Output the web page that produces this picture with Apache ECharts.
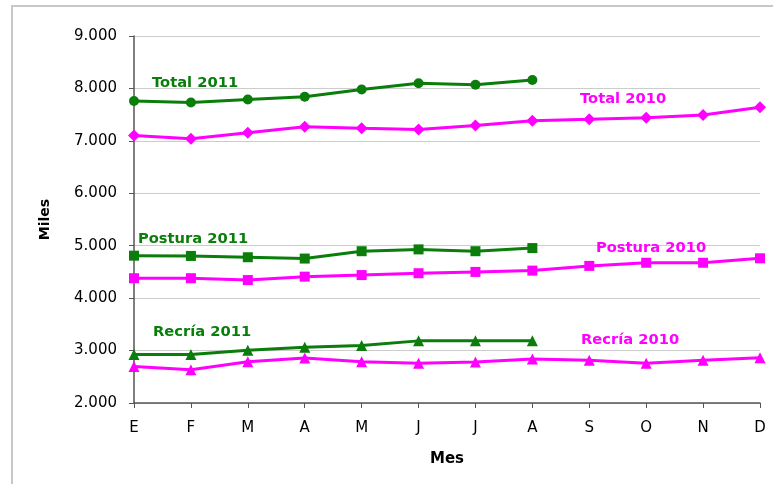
<!DOCTYPE html>
<html><head><meta charset="utf-8">
<script src="https://cdn.jsdelivr.net/npm/echarts@6/dist/echarts.min.js"></script>
<style>html,body{margin:0;padding:0;background:#fff}#c{width:773px;height:484px}</style>
</head><body><div id="c"></div>
<script>
var months = ['E','F','M','A','M','J','J','A','S','O','N','D'];
var total2011 = [7760, 7730, 7790, 7840, 7980, 8100, 8070, 8160];
var total2010 = [7100, 7040, 7155, 7270, 7240, 7215, 7295, 7385, 7410, 7440, 7495, 7640];
var postura2011 = [4810, 4805, 4780, 4755, 4895, 4930, 4895, 4955];
var postura2010 = [4380, 4380, 4345, 4410, 4440, 4475, 4500, 4525, 4615, 4675, 4675, 4760];
var recria2011 = [2925, 2925, 3005, 3065, 3095, 3185, 3185, 3185];
var recria2010 = [2695, 2635, 2785, 2860, 2785, 2760, 2780, 2840, 2815, 2760, 2815, 2865];
var yTicks = {min: 2000, max: 9000, interval: 1000};

var GREEN = '#0a7d0a', MAG = '#ff00ff';
var FONT = '"DejaVu Sans", Verdana, sans-serif';
function s(name, data, color, symbol, size) {
  return {name: name, type: 'line', data: data, symbol: symbol, symbolSize: size,
    showAllSymbol: true,
    lineStyle: {color: color, width: 3}, itemStyle: {color: color}, z: 3};
}
function lbl(text, x, y, color) {
  return {type: 'text', left: x, top: y, z: 100, style: {text: text, fill: color,
    font: 'bold 14.7px ' + FONT}};
}
var chart = echarts.init(document.getElementById('c'), null, {renderer: 'canvas'});
chart.setOption({
  animation: false,
  textStyle: {fontFamily: FONT},
  grid: {left: 134, right: 13, top: 36, bottom: 81},
  xAxis: {type: 'category', data: months, boundaryGap: false,
    name: 'Mes', nameLocation: 'middle', nameGap: 49,
    nameTextStyle: {fontWeight: 'bold', fontSize: 15, color: '#000', fontFamily: FONT},
    axisLine: {lineStyle: {color: '#555', width: 1.5}},
    axisTick: {show: true, length: 5, inside: false, alignWithLabel: true, lineStyle: {color: '#555'}},
    axisLabel: {color: '#000', fontSize: 15, margin: 18, fontFamily: FONT},
    splitLine: {show: false}},
  yAxis: {type: 'value', min: yTicks.min, max: yTicks.max, interval: yTicks.interval,
    name: 'Miles', nameLocation: 'middle', nameGap: 82, nameRotate: 90,
    nameTextStyle: {fontWeight: 'bold', fontSize: 14, color: '#000', fontFamily: FONT},
    axisLine: {show: true, lineStyle: {color: '#555', width: 1.5}},
    axisTick: {show: true, length: 5, lineStyle: {color: '#555'}},
    axisLabel: {color: '#000', fontSize: 15, margin: 17, fontFamily: FONT,
      formatter: function (v) { return String(v).replace(/\B(?=(\d{3})+(?!\d))/g, '.'); }},
    splitLine: {show: true, lineStyle: {color: '#cccccc', width: 1}}},
  graphic: [
    {type: 'rect', shape: {x: 12, y: 6, width: 800, height: 520},
      style: {fill: 'none', stroke: '#c8c8c8', lineWidth: 2}, silent: true},
    lbl('Total 2011', 152, 76, GREEN),
    lbl('Total 2010', 580, 92, MAG),
    lbl('Postura 2011', 138, 232, GREEN),
    lbl('Postura 2010', 596, 241, MAG),
    lbl('Recría 2011', 153, 325, GREEN),
    lbl('Recría 2010', 581, 333, MAG)
  ],
  series: [
    s('Total 2011', total2011, GREEN, 'circle', 10),
    s('Total 2010', total2010, MAG, 'diamond', 12),
    s('Postura 2011', postura2011, GREEN, 'rect', 10),
    s('Postura 2010', postura2010, MAG, 'rect', 10),
    s('Recría 2011', recria2011, GREEN, 'triangle', 11),
    s('Recría 2010', recria2010, MAG, 'triangle', 11)
  ]
});
</script></body></html>
